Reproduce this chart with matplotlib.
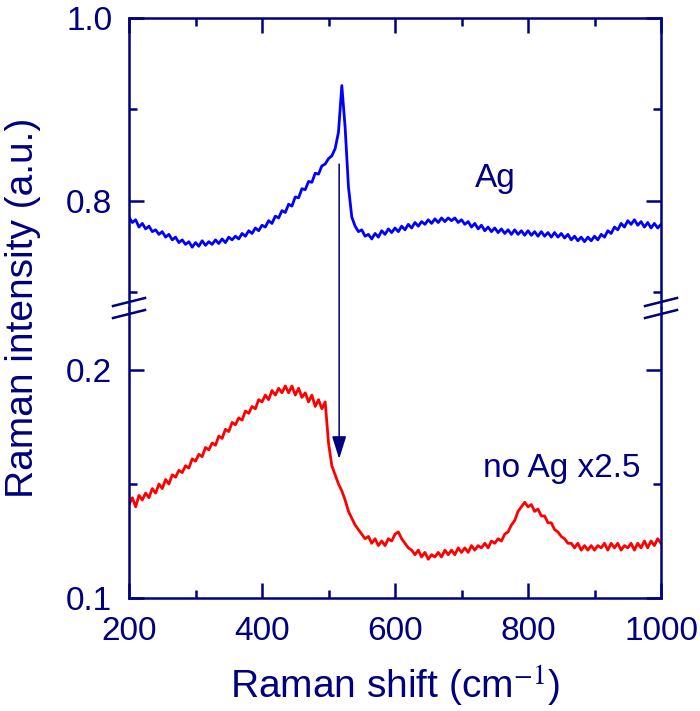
import numpy as np
import matplotlib
matplotlib.use("Agg")
import matplotlib.pyplot as plt
from matplotlib.lines import Line2D

# Raman spectra (5 cm^-1 spacing, 200..1000)
ag_vals = [
    0.782, 0.776, 0.779, 0.771, 0.775, 0.769, 0.772, 0.766, 0.768, 0.763,
    0.766, 0.760, 0.763, 0.757, 0.760, 0.754, 0.757, 0.752, 0.755, 0.749,
    0.754, 0.750, 0.756, 0.751, 0.755, 0.752, 0.757, 0.753, 0.758, 0.754,
    0.760, 0.757, 0.761, 0.758, 0.764, 0.761, 0.767, 0.764, 0.770, 0.767,
    0.773, 0.771, 0.778, 0.775, 0.783, 0.781, 0.789, 0.787, 0.796, 0.794,
    0.804, 0.803, 0.813, 0.812, 0.821, 0.820, 0.830, 0.829, 0.838, 0.840,
    0.846, 0.849, 0.857, 0.875, 0.926, 0.880, 0.815, 0.782, 0.772, 0.766,
    0.768, 0.761, 0.763, 0.758, 0.764, 0.760, 0.767, 0.763, 0.769, 0.765,
    0.770, 0.766, 0.772, 0.768, 0.774, 0.770, 0.776, 0.772, 0.777, 0.774,
    0.779, 0.775, 0.780, 0.776, 0.781, 0.777, 0.781, 0.778, 0.781, 0.776,
    0.779, 0.774, 0.777, 0.771, 0.775, 0.769, 0.773, 0.767, 0.771, 0.766,
    0.770, 0.765, 0.769, 0.764, 0.768, 0.763, 0.768, 0.763, 0.767, 0.762,
    0.767, 0.762, 0.766, 0.761, 0.766, 0.761, 0.765, 0.760, 0.765, 0.760,
    0.764, 0.759, 0.763, 0.757, 0.761, 0.756, 0.760, 0.755, 0.760, 0.756,
    0.761, 0.757, 0.763, 0.760, 0.767, 0.764, 0.771, 0.768, 0.775, 0.771,
    0.778, 0.774, 0.779, 0.773, 0.777, 0.771, 0.776, 0.770, 0.775, 0.770,
    0.774,
]
noag_vals = [
    0.141, 0.144, 0.140, 0.145, 0.143, 0.146, 0.144, 0.148, 0.146, 0.150,
    0.148, 0.152, 0.150, 0.154, 0.153, 0.156, 0.155, 0.158, 0.157, 0.161,
    0.160, 0.163, 0.162, 0.166, 0.165, 0.168, 0.167, 0.171, 0.170, 0.174,
    0.173, 0.177, 0.176, 0.179, 0.178, 0.182, 0.181, 0.184, 0.183, 0.187,
    0.186, 0.189, 0.187, 0.191, 0.189, 0.192, 0.190, 0.193, 0.190, 0.193,
    0.189, 0.192, 0.188, 0.190, 0.186, 0.189, 0.184, 0.187, 0.183, 0.186,
    0.168, 0.158, 0.154, 0.150, 0.147, 0.143, 0.138, 0.135, 0.132, 0.130,
    0.128, 0.126, 0.127, 0.124, 0.126, 0.123, 0.125, 0.123, 0.126, 0.125,
    0.128, 0.129, 0.126, 0.124, 0.122, 0.121, 0.119, 0.121, 0.118, 0.120,
    0.117, 0.119, 0.118, 0.120, 0.118, 0.121, 0.119, 0.121, 0.119, 0.122,
    0.120, 0.122, 0.120, 0.123, 0.121, 0.123, 0.122, 0.124, 0.122, 0.125,
    0.124, 0.126, 0.125, 0.128, 0.129, 0.132, 0.134, 0.138, 0.140, 0.142,
    0.140, 0.141, 0.138, 0.139, 0.136, 0.136, 0.133, 0.133, 0.130, 0.129,
    0.127, 0.126, 0.124, 0.124, 0.122, 0.124, 0.121, 0.123, 0.121, 0.123,
    0.121, 0.123, 0.122, 0.124, 0.121, 0.124, 0.122, 0.124, 0.121, 0.123,
    0.122, 0.124, 0.121, 0.124, 0.122, 0.125, 0.122, 0.125, 0.123, 0.126,
    0.124,
]
ag_x = 200 + 5 * np.arange(len(ag_vals))
noag_x = 200 + 5 * np.arange(len(noag_vals))

arrow_x = 516
arrow_from = 0.84
arrow_to = 0.161

navy = "#000080"
plt.rcParams["font.family"] = ["Liberation Sans", "DejaVu Sans"]
plt.rcParams["mathtext.fontset"] = "stix"

fig = plt.figure(figsize=(7.0, 7.11), dpi=100)
left, width = 0.1843, 0.76
bottom, junction, top = 0.1589, 0.5668, 0.9747
ax_top = fig.add_axes([left, junction, width, top - junction])
ax_bot = fig.add_axes([left, bottom, width, junction - bottom])

ax_top.plot(ag_x, ag_vals, color="#0000FF", lw=2.0)
ax_bot.plot(noag_x, noag_vals, color="#FF0000", lw=2.0)

ax_top.set_ylim(1.0 - 290 / 913, 1.0)
ax_bot.set_ylim(0.1, 0.1 + 290 / 2280)

for ax in (ax_top, ax_bot):
    ax.set_xlim(200, 1000)
    ax.set_xticks([200, 400, 600, 800, 1000])
    ax.set_xticks([300, 500, 700, 900], minor=True)
    for s in ax.spines.values():
        s.set_color(navy)
        s.set_linewidth(1.8)
    ax.tick_params(which="both", direction="in", color=navy, width=1.8,
                   labelcolor=navy, labelsize=24, right=True, top=True)
    ax.tick_params(which="major", length=11)
    ax.tick_params(which="minor", length=6)
    ax.tick_params(axis="y", pad=12)
    ax.tick_params(axis="x", pad=13)

ax_top.set_yticks([0.8, 1.0])
ax_top.set_yticks([0.7, 0.9], minor=True)
ax_top.set_yticklabels(["0.8", "1.0"])
ax_bot.set_yticks([0.1, 0.2])
ax_bot.set_yticks([0.15], minor=True)
ax_bot.set_yticklabels(["0.1", "0.2"])

ax_top.spines["bottom"].set_visible(False)
ax_bot.spines["top"].set_visible(False)
ax_top.tick_params(which="both", bottom=False, labelbottom=False)
ax_bot.tick_params(which="both", top=False)

ax_bot.set_xlabel("Raman shift (cm$^{-1}$)", fontsize=28, color=navy, labelpad=12)
fig.text(0.033, junction, "Raman intensity (a.u.)", rotation=90, fontsize=28,
         color=navy, ha="center", va="center")

ax_top.text(751, 0.815, "Ag", fontsize=24, color=navy, ha="center", va="baseline")
ax_bot.text(850, 0.1532, "no Ag x2.5", fontsize=24, color=navy, ha="center", va="baseline")

ax_bot.annotate("", xy=(arrow_x, arrow_to), xycoords="data",
                xytext=(arrow_x, arrow_from), textcoords=ax_top.transData,
                annotation_clip=False,
                arrowprops=dict(arrowstyle="-|>,head_length=0.7,head_width=0.22",
                                mutation_scale=20, color=navy, lw=1.1,
                                shrinkA=0, shrinkB=0))

# axis-break marks on both sides
dx, dy = 16 / 700, 4 / 711
for xs in (left, left + width):
    for off in (6 / 711, -6 / 711):
        yc = junction + off
        fig.add_artist(Line2D([xs - dx, xs + dx], [yc - dy, yc + dy],
                              color=navy, lw=1.8, transform=fig.transFigure))

fig.savefig("out.png", dpi=100)
